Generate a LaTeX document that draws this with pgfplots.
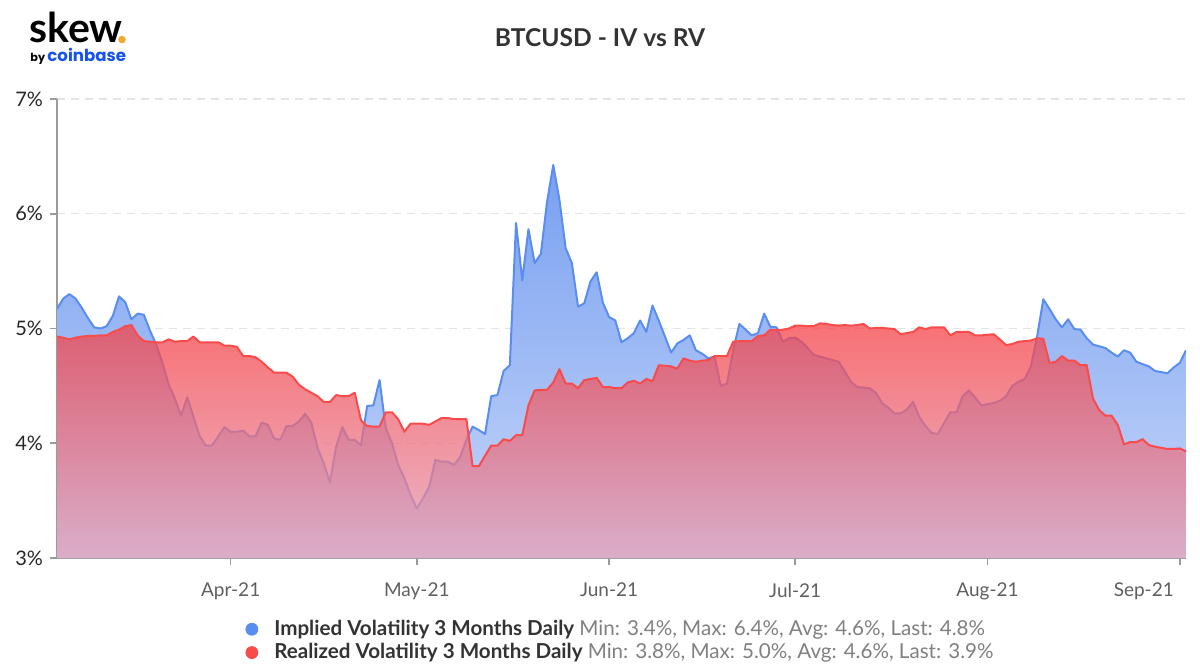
\documentclass[border=0pt]{standalone}
\usepackage{fontspec}
\setmainfont{Lato}
\newfontfamily\popfont{Poppins}
\usepackage{pgfplots}
\pgfplotsset{compat=1.18}
\usepackage{pgfplotstable}
\usepgfplotslibrary{fillbetween}

\definecolor{ivc}{RGB}{90,141,240}
\definecolor{rvc}{RGB}{250,75,75}
\definecolor{ivtop}{RGB}{120,160,240}
\definecolor{ivbot}{RGB}{200,215,250}
\definecolor{rvtop}{RGB}{245,65,70}
\definecolor{rvbot}{RGB}{225,160,185}
\definecolor{axisgray}{RGB}{155,155,155}
\definecolor{gridc}{RGB}{228,228,228}
\definecolor{titlec}{RGB}{51,51,51}
\definecolor{statc}{RGB}{128,128,128}
\definecolor{xlab}{RGB}{95,95,95}
\definecolor{cbblue}{RGB}{22,82,240}
\definecolor{dotor}{RGB}{240,170,50}

% day offset from 2021-04-01
\pgfplotstableread{
d v
-28 5.17
-27 5.26
-26 5.30
-25 5.26
-24 5.18
-23 5.09
-22 5.01
-21 5.00
-20 5.02
-19 5.11
-18 5.28
-17 5.23
-16 5.08
-15 5.13
-14 5.12
-13 4.98
-12 4.86
-11 4.70
-10 4.51
-9 4.39
-8 4.24
-7 4.40
-6 4.23
-5 4.06
-4 3.98
-3 3.98
-2 4.06
-1 4.14
0 4.10
1 4.10
2 4.11
3 4.06
4 4.06
5 4.18
6 4.16
7 4.04
8 4.03
9 4.15
10 4.15
11 4.19
12 4.255
13 4.18
14 3.96
15 3.825
16 3.66
17 3.97
18 4.14
19 4.03
20 4.03
21 3.98
22 4.325
23 4.33
24 4.55
25 4.13
26 4.00
27 3.81
28 3.695
29 3.55
30 3.43
31 3.52
32 3.62
33 3.855
34 3.84
35 3.84
36 3.81
37 3.88
38 4.03
39 4.145
40 4.115
41 4.08
42 4.41
43 4.42
44 4.63
45 4.68
46 5.92
47 5.42
48 5.865
49 5.57
50 5.65
51 6.105
52 6.425
53 6.12
54 5.70
55 5.57
56 5.19
57 5.22
58 5.41
59 5.49
60 5.225
61 5.10
62 5.07
63 4.88
64 4.915
65 4.96
66 5.07
67 4.97
68 5.20
69 5.07
70 4.93
71 4.79
72 4.87
73 4.90
74 4.94
75 4.81
76 4.78
77 4.74
78 4.755
79 4.50
80 4.52
81 4.81
82 5.04
83 4.99
84 4.94
85 4.96
86 5.13
87 5.015
88 5.01
89 4.885
90 4.915
91 4.92
92 4.885
93 4.83
94 4.77
95 4.755
96 4.74
97 4.725
98 4.71
99 4.625
100 4.535
101 4.49
102 4.485
103 4.48
104 4.44
105 4.35
106 4.31
107 4.26
108 4.26
109 4.295
110 4.36
111 4.23
112 4.15
113 4.09
114 4.08
115 4.175
116 4.27
117 4.27
118 4.41
119 4.46
120 4.40
121 4.33
122 4.34
123 4.35
124 4.37
125 4.41
126 4.50
127 4.535
128 4.56
129 4.67
130 4.93
131 5.255
132 5.17
133 5.08
134 5.01
135 5.08
136 4.995
137 4.99
138 4.915
139 4.86
140 4.845
141 4.83
142 4.79
143 4.755
144 4.81
145 4.79
146 4.71
147 4.69
148 4.67
149 4.63
150 4.62
151 4.61
152 4.66
153 4.70
154 4.81
}\ivdata

\pgfplotstableread{
d v
-28 4.93
-27 4.92
-26 4.905
-25 4.92
-24 4.93
-23 4.935
-22 4.935
-21 4.94
-20 4.94
-19 4.97
-18 4.99
-17 5.02
-16 5.03
-15 4.94
-14 4.89
-13 4.885
-12 4.88
-11 4.88
-10 4.905
-9 4.885
-8 4.89
-7 4.89
-6 4.93
-5 4.88
-4 4.88
-3 4.88
-2 4.88
-1 4.85
0 4.85
1 4.84
2 4.76
3 4.76
4 4.75
5 4.71
6 4.66
7 4.615
8 4.615
9 4.615
10 4.58
11 4.51
12 4.47
13 4.44
14 4.41
15 4.36
16 4.36
17 4.42
18 4.41
19 4.41
20 4.44
21 4.20
22 4.15
23 4.145
24 4.145
25 4.27
26 4.27
27 4.21
28 4.10
29 4.17
30 4.17
31 4.17
32 4.16
33 4.19
34 4.22
35 4.22
36 4.21
37 4.21
38 4.21
39 3.80
40 3.80
41 3.89
42 3.98
43 3.98
44 4.035
45 4.02
46 4.07
47 4.07
48 4.33
49 4.46
50 4.465
51 4.465
52 4.53
53 4.645
54 4.52
55 4.52
56 4.48
57 4.55
58 4.56
59 4.57
60 4.49
61 4.49
62 4.48
63 4.48
64 4.53
65 4.545
66 4.52
67 4.56
68 4.54
69 4.68
70 4.675
71 4.67
72 4.65
73 4.74
74 4.72
75 4.71
76 4.72
77 4.725
78 4.76
79 4.76
80 4.76
81 4.885
82 4.89
83 4.89
84 4.89
85 4.935
86 4.94
87 4.99
88 4.985
89 4.99
90 5.00
91 5.025
92 5.025
93 5.02
94 5.02
95 5.045
96 5.04
97 5.03
98 5.025
99 5.03
100 5.025
101 5.03
102 5.04
103 5.00
104 5.005
105 5.005
106 5.00
107 4.995
108 4.95
109 4.96
110 4.97
111 5.01
112 4.995
113 5.01
114 5.01
115 5.01
116 4.94
117 4.97
118 4.97
119 4.97
120 4.94
121 4.94
122 4.945
123 4.95
124 4.905
125 4.855
126 4.865
127 4.885
128 4.89
129 4.895
130 4.915
131 4.91
132 4.70
133 4.71
134 4.76
135 4.72
136 4.72
137 4.68
138 4.68
139 4.39
140 4.29
141 4.24
142 4.24
143 4.16
144 3.99
145 4.01
146 4.01
147 4.035
148 3.985
149 3.97
150 3.96
151 3.95
152 3.95
153 3.955
154 3.93
}\rvdata

\begin{document}
\begin{tikzpicture}
% logo
\node[anchor=base west, inner sep=0pt, text depth=0pt, font=\bfseries\fontsize{20.5}{21}\selectfont] at (14.5pt,313.5pt) {skew};
\fill[dotor] (61pt,315.2pt) circle (1.9pt);
\node[anchor=base west, inner sep=0pt, text height=5pt, font=\popfont\bfseries\fontsize{5.6}{7}\selectfont] at (15pt,304pt) {by};
\node[anchor=base west, inner sep=0pt, text height=6.5pt, font=\popfont\bfseries\fontsize{8.3}{10}\selectfont, text=cbblue] at (23.5pt,304pt) {coinbase};

% title
\node[font=\bfseries\fontsize{12.3}{14}\selectfont, text=titlec] at (300pt,316pt) {BTCUSD - IV vs RV};

\begin{axis}[
  at={(28.5pt,56pt)}, anchor=south west,
  scale only axis, width=564.5pt, height=229.5pt,
  set layers,
  fill between/on layer=main,
  xmin=-28, xmax=154, ymin=3, ymax=7,
  axis lines=left,
  axis line style={-, draw=axisgray, line width=0.8pt},
  tick align=outside,
  major tick length=3.5pt,
  tick style={draw=axisgray, line width=0.8pt},
  xtick={0,30,61,91,122,153},
  xticklabels={Apr-21,May-21,Jun-21,Jul-21,Aug-21,\llap{Sep-21\hspace{3pt}}},
  ytick={3,4,5,6,7},
  yticklabels={3\%,4\%,5\%,6\%,7\%},
  /pgf/number format/assume math mode=true,
  xticklabel style={font=\fontsize{9.5}{11}\selectfont, text=xlab, yshift=-5.5pt},
  yticklabel style={font=\fontsize{10}{11}\selectfont, text=black!85},
  ymajorgrids,
  grid style={draw=gridc, line width=0.6pt, dash pattern=on 4pt off 3pt},
  legend image code/.code={\fill[#1] (0pt,0pt) circle (3pt);},
  legend style={at={(0.5,-0.117)}, anchor=north, draw=none, fill=none,
    font=\fontsize{10.3}{12.3}\selectfont, text=titlec, row sep=-1.5pt, column sep=6pt},
  legend cell align=left,
]
\addplot[name path=base, draw=none, forget plot] coordinates {(-28,3) (154,3)};
\addplot[name path=iv, draw=none, forget plot] table[x=d,y=v]{\ivdata};
\addplot[name path=rv, draw=none, forget plot] table[x=d,y=v]{\rvdata};
\addplot[fill=none, top color=ivtop, bottom color=ivbot, draw=none, forget plot] fill between[of=iv and base];
\addplot[ivc, line width=1pt, line join=round, forget plot] table[x=d,y=v]{\ivdata};
\addplot[fill=none, top color=rvtop, bottom color=rvbot, fill opacity=0.75, draw=none, forget plot] fill between[of=rv and base];
\addplot[rvc, line width=1pt, line join=round, forget plot] table[x=d,y=v]{\rvdata};

\addlegendimage{color=ivc}
\addlegendentry{\textbf{Implied Volatility 3 Months Daily} \textcolor{statc}{Min: 3.4\%, Max: 6.4\%, Avg: 4.6\%, Last: 4.8\%}}
\addlegendimage{color=rvc}
\addlegendentry{\textbf{Realized Volatility 3 Months Daily} \textcolor{statc}{Min: 3.8\%, Max: 5.0\%, Avg: 4.6\%, Last: 3.9\%}}
\end{axis}
\path (0,0) rectangle (600pt,335pt);
\end{tikzpicture}
\end{document}
